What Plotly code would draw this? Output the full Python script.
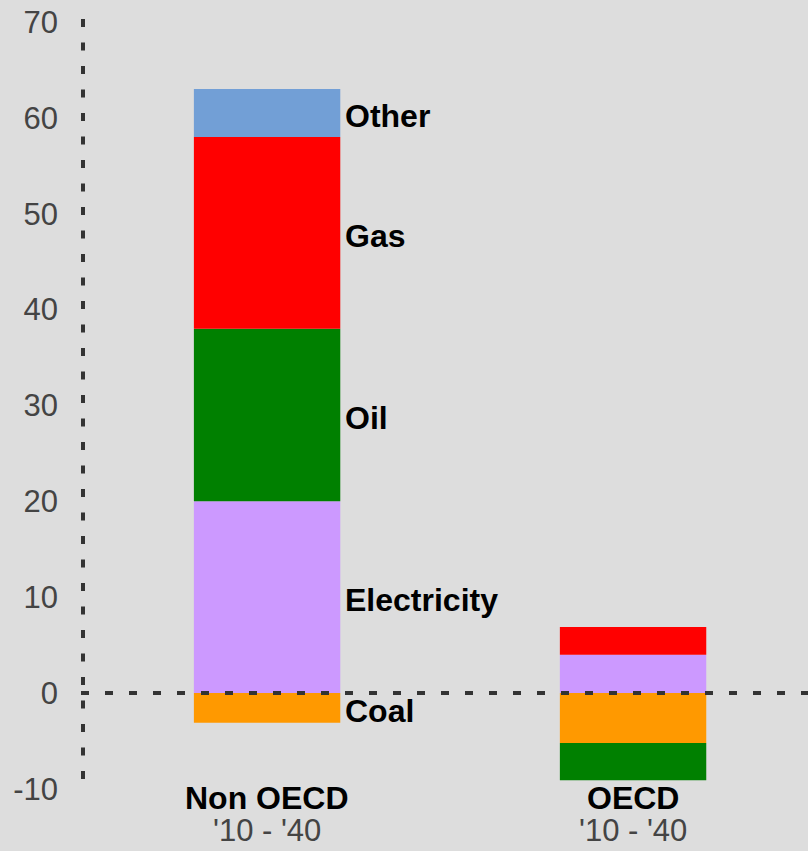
import plotly.graph_objects as go

regions = ["Non OECD", "OECD"]
period_labels = ["'10 - '40", "'10 - '40"]
series_names = ["Coal", "Electricity", "Oil", "Gas", "Other"]
coal = [-3.1, -5.2]
electricity = [20.0, 4.0]
oil = [18.0, -3.9]
gas = [20.0, 2.9]
other = [5.0, 0.0]
y_ticks = [-10, 0, 10, 20, 30, 40, 50, 60, 70]

series_values = [coal, electricity, oil, gas, other]
colors = ["#ff9900", "#cc99ff", "#008000", "#ff0000", "#729fd6"]

xpos = [0, 1]
bar_w = 0.4
FONT = "Liberation Sans, Arial, sans-serif"
FS = 31
FSB = 32

fig = go.Figure()
for name, vals, col in zip(series_names, series_values, colors):
    fig.add_trace(go.Bar(x=xpos, y=vals, name=name, width=bar_w,
                         marker=dict(color=col, line=dict(width=0)),
                         hoverinfo="skip"))

# Segment labels for the Non OECD bar (centered on each segment)
pos_base = 0.0
neg_base = 0.0
annotations = []
for name, vals in zip(series_names, series_values):
    v = vals[0]
    if v >= 0:
        mid = pos_base + v / 2
        pos_base += v
    else:
        mid = neg_base + v / 2
        neg_base += v
    annotations.append(dict(x=xpos[0] + bar_w / 2, y=mid, xref="x", yref="y",
                            text="<b>" + name + "</b>", showarrow=False,
                            xanchor="left", yanchor="middle", xshift=3, yshift=-3,
                            font=dict(family=FONT, size=FSB, color="#000000")))

for xp, reg, per in zip(xpos, regions, period_labels):
    annotations.append(dict(x=xp, y=0, xref="x", yref="paper", text="<b>" + reg + "</b>",
                            showarrow=False, xanchor="center", yanchor="middle", yshift=-9,
                            font=dict(family=FONT, size=FSB, color="#000000")))
    annotations.append(dict(x=xp, y=0, xref="x", yref="paper", text=per,
                            showarrow=False, xanchor="center", yanchor="middle", yshift=-41,
                            font=dict(family=FONT, size=FS, color="#444444")))

shapes = [
    dict(type="line", xref="paper", yref="paper", x0=0, x1=0, y0=1, y1=0,
         line=dict(color="#333333", width=4, dash="8px,15.5px"), layer="above"),
    dict(type="line", xref="paper", yref="y", x0=-2 / 725, x1=1, y0=0, y1=0,
         line=dict(color="#333333", width=4, dash="8px,16px"), layer="above"),
]

fig.update_layout(
    width=808, height=851,
    margin=dict(l=83, r=0, t=19, b=62),
    paper_bgcolor="#dddddd", plot_bgcolor="#dddddd",
    barmode="relative",
    showlegend=False,
    annotations=annotations,
    shapes=shapes,
    xaxis=dict(range=[-0.503, 1.478], showticklabels=False, showgrid=False,
               zeroline=False, showline=False, fixedrange=True),
    yaxis=dict(range=[-10, 70.3], tickvals=y_ticks, ticktext=[str(t) for t in y_ticks],
               showgrid=False, zeroline=False, showline=False,
               ticks="", ticklabelstandoff=24,
               tickfont=dict(family=FONT, size=FS, color="#444444")),
)

fig.write_html("out.html", config={"displayModeBar": False},
               post_script="document.body.style.margin='0';document.body.style.padding='0';"
                           "document.body.style.background='#dddddd';"
                           "document.documentElement.style.overflow='hidden';")
